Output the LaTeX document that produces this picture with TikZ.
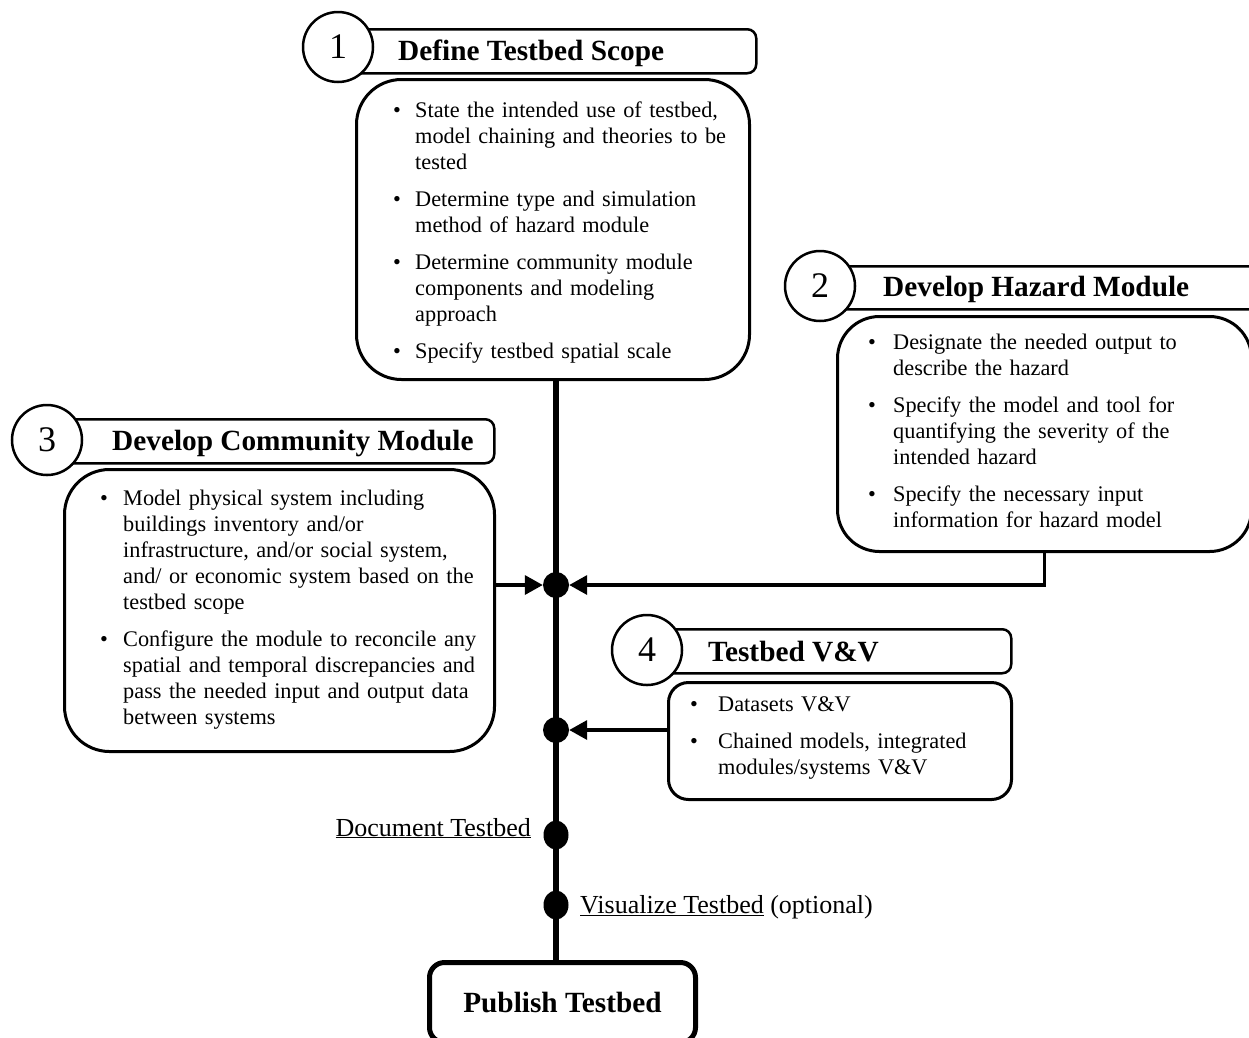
\documentclass[tikz,border=0pt]{standalone}
\usepackage{fontspec}
\setmainfont{Liberation Serif}
\usetikzlibrary{arrows.meta,shapes.geometric}

% bulleted paragraph with hanging indent; lines are broken with \newline
\newlength\bulind
\newcommand\bitem[1]{\hangindent=\bulind\hangafter=1\noindent\makebox[\bulind][l]{\textbullet}#1\par}
\newcommand\bsep{\vspace{11pt}}

\tikzset{
  numcirc/.style={circle, draw, line width=2.5pt, fill=white, minimum size=70pt,
    inner sep=0pt, font=\fontsize{36}{40}\selectfont},
  tabbar/.style={rectangle, draw, line width=2.5pt, rounded corners=9pt, fill=white,
    inner sep=0pt, anchor=north west},
  ttl/.style={anchor=base west, inner sep=0pt, font=\fontsize{29.3}{34}\selectfont\bfseries},
  bodybox/.style={rectangle, draw, line width=3pt, fill=white, inner sep=0pt, anchor=north west},
  bodytext/.style={anchor=base west, inner sep=0pt, text width=400pt,
    font=\fontsize{22.3}{26}\selectfont\raggedright},
  spine/.style={line width=6pt},
  feedline/.style={line width=3.5pt, -{Triangle[length=18pt,width=19pt]}},
  dot/.style={circle, fill=black, minimum size=26pt, inner sep=0pt},
  odot/.style={ellipse, fill=black, minimum width=25pt, minimum height=29pt, inner sep=0pt},
  steplabel/.style={inner sep=0pt, font=\fontsize{26}{30}\selectfont},
  pubbox/.style={rectangle, draw, line width=5pt, rounded corners=15pt, fill=white,
    inner sep=0pt, anchor=north west, font=\fontsize{29.3}{34}\selectfont\bfseries}
}

\begin{document}
\begin{tikzpicture}[x=1pt,y=-1pt]
\useasboundingbox (0,0) rectangle (1249,1037);
\clip (0,0) rectangle (1249,1037);

% ---- step 1
\node[tabbar, minimum width=410pt, minimum height=44pt] (t1) at (345,28) {};
\node[numcirc] (c1) at (338,47) {1};
\node[ttl] (t1txt) at (398,60) {Define Testbed Scope};
\node[bodybox, rounded corners=45pt, minimum width=393pt, minimum height=300pt] (b1) at (355,78) {};
\node[bodytext] (b1txt) at (393,117) {\setlength\bulind{22pt}%
  \bitem{State the intended use of testbed,\newline model chaining and theories to be\newline tested}\bsep
  \bitem{Determine type and simulation\newline method of hazard module}\bsep
  \bitem{Determine community module\newline components and modeling\newline approach}\bsep
  \bitem{Specify testbed spatial scale}};

% ---- step 2
\node[tabbar, minimum width=440pt, minimum height=43pt] (t2) at (822,265) {};
\node[numcirc] (c2) at (820,286) {2};
\node[ttl] (t2txt) at (883,296) {Develop Hazard Module};
\node[bodybox, rounded corners=42pt, minimum width=414pt, minimum height=235pt] (b2) at (836,315) {};
\node[bodytext] (b2txt) at (868,349) {\setlength\bulind{25pt}%
  \bitem{Designate the needed output to\newline describe the hazard}\bsep
  \bitem{Specify the model and tool for\newline quantifying the severity of the\newline intended hazard}\bsep
  \bitem{Specify the necessary input\newline information for hazard model}};

% ---- step 3
\node[tabbar, minimum width=446pt, minimum height=44pt] (t3) at (47,418) {};
\node[numcirc] (c3) at (47,440) {3};
\node[ttl] (t3txt) at (112,450) {Develop Community Module};
\node[bodybox, rounded corners=45pt, minimum width=430pt, minimum height=282pt] (b3) at (63,468) {};
\node[bodytext] (b3txt) at (100,505) {\setlength\bulind{23pt}%
  \bitem{Model physical system including\newline buildings inventory and/or\newline infrastructure, and/or social system,\newline and/ or economic system based on the\newline testbed scope}\bsep
  \bitem{Configure the module to reconcile any\newline spatial and temporal discrepancies and\newline pass the needed input and output data\newline between systems}};

% ---- step 4
\node[tabbar, minimum width=360pt, minimum height=44pt] (t4) at (650,628) {};
\node[numcirc] (c4) at (647,650) {4};
\node[ttl] (t4txt) at (708,661) {Testbed V\&V};
\node[bodybox, rounded corners=20pt, minimum width=343pt, minimum height=117pt] (b4) at (667,681) {};
\node[bodytext] (b4txt) at (690,711) {\setlength\bulind{28pt}%
  \bitem{Datasets V\&V}\bsep
  \bitem{Chained models, integrated\newline modules/systems V\&V}};

% ---- main line and its junctions
\node[dot] (d1) at (556,585) {};
\node[dot] (d2) at (556,730) {};
\node[odot] (d3) at (556,835) {};
\node[odot] (d4) at (556,905) {};
\node[pubbox, minimum width=266pt, minimum height=80pt] (pub) at (427,960) {Publish Testbed};

\draw[spine] (b1.south -| d1) -- (pub.north -| d1);

\draw[feedline] (b3.east |- d1) -- (d1);
\draw[feedline] (b2.south) -- (b2.south |- d1) -- (d1);
\draw[feedline] (b4.west |- d2) -- (d2);

\node[steplabel, anchor=base east] (l3) at (531,836) {\underline{Document Testbed}};
\node[steplabel, anchor=base west] (l4) at (580,913) {\underline{Visualize Testbed} (optional)};
\end{tikzpicture}
\end{document}
